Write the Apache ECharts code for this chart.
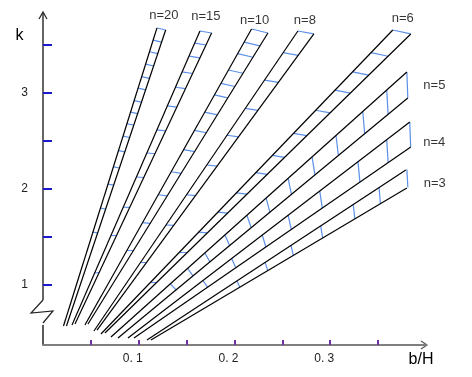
<!DOCTYPE html>
<html>
<head>
<meta charset="utf-8">
<script src="https://cdn.jsdelivr.net/npm/echarts@6/dist/echarts.min.js"></script>
<style>
html, body { margin: 0; padding: 0; background: #fff; }
#chart { width: 472px; height: 377px; }
</style>
</head>
<body>
<div id="chart"></div>
<script>
// band names (top to bottom, left to right)
var bandNames = ['n=20', 'n=15', 'n=10', 'n=8', 'n=6', 'n=5', 'n=4', 'n=3'];

// first (left / upper) line of each band: [[b/H, k] bottom, [b/H, k] top]
var lineA = [
    [[0.0214, 0.573], [0.1190, 3.677]],
    [[0.0303, 0.583], [0.1639, 3.646]],
    [[0.0438, 0.583], [0.2178, 3.667]],
    [[0.0532, 0.521], [0.2662, 3.646]],
    [[0.0605, 0.490], [0.3653, 3.656]],
    [[0.0710, 0.458], [0.3800, 3.219]],
    [[0.0887, 0.448], [0.3831, 2.698]],
    [[0.1086, 0.427], [0.3789, 2.198]]
];
// second (right / lower) line of each band
var lineB = [
    [[0.0245, 0.573], [0.1281, 3.656]],
    [[0.0334, 0.594], [0.1761, 3.625]],
    [[0.0470, 0.594], [0.2349, 3.625]],
    [[0.0564, 0.531], [0.2829, 3.615]],
    [[0.0647, 0.500], [0.3841, 3.615]],
    [[0.0783, 0.448], [0.3810, 2.948]],
    [[0.0950, 0.448], [0.3841, 2.4375]],
    [[0.1127, 0.427], [0.3800, 2.010]]
];

// cross marks inside each band: k on the first line ('k') or b/H ('b')
var rungAxis = ['k', 'k', 'k', 'k', 'k', 'b', 'b', 'b'];
var rungValues = [
    [3.677, 3.55, 3.43, 3.30, 3.17, 3.05, 2.92, 2.80, 2.68, 2.55, 2.40, 2.23, 2.05, 1.80, 1.55],
    [3.646, 3.52, 3.385, 3.22, 3.06, 2.865, 2.615, 2.375, 2.125, 1.81, 1.52, 1.125],
    [3.667, 3.53, 3.41, 3.24, 3.10, 2.98, 2.80, 2.61, 2.41, 2.18, 1.94, 1.65, 1.36],
    [3.646, 3.42, 3.135, 2.84, 2.56, 2.25, 1.94, 1.625, 1.24],
    [3.656, 3.42, 3.22, 3.03, 2.82, 2.58, 2.35, 2.17, 1.96, 1.76, 1.55, 1.34, 1.03],
    [0.380, 0.359, 0.334, 0.306, 0.281, 0.256, 0.233, 0.213, 0.190, 0.169, 0.151, 0.133],
    [0.383, 0.359, 0.329, 0.289, 0.256, 0.229, 0.197, 0.167],
    [0.380, 0.351, 0.324, 0.290, 0.259, 0.232, 0.2025]
];

var xTickValues = [0.05, 0.1, 0.15, 0.2, 0.25, 0.3, 0.35];
var xLabelValues = [0.1, 0.2, 0.3];
var yTickValues = [1, 1.5, 2, 2.5, 3, 3.5];
var yLabelValues = [1, 2, 3];

// label offsets (px) from the top of the first line
var labelOffsets = [[7, -13], [6, -14.5], [3, -8.5], [7, -10.5], [10, -11.5], [27.5, 13.5], [24.5, 20.5], [29, 13.5]];

function lerp(p, q, t) {
    return [p[0] + (q[0] - p[0]) * t, p[1] + (q[1] - p[1]) * t];
}

var series = [];
var tops = [];
bandNames.forEach(function (name, i) {
    var a = lineA[i], b = lineB[i];
    var lineStyle = { color: '#000', width: 1.2 };
    series.push({ type: 'line', data: a, symbol: 'none', lineStyle: lineStyle, silent: true, z: 3 });
    series.push({ type: 'line', data: b, symbol: 'none', lineStyle: lineStyle, silent: true, z: 3 });
    var idx = rungAxis[i] === 'k' ? 1 : 0;
    var rungs = rungValues[i].map(function (v) {
        var t = (v - a[0][idx]) / (a[1][idx] - a[0][idx]);
        return { coords: [lerp(a[0], a[1], t), lerp(b[0], b[1], t)] };
    });
    series.push({
        type: 'lines', coordinateSystem: 'cartesian2d', data: rungs, silent: true, z: 2,
        lineStyle: { color: '#5b8fe8', width: 1.2, opacity: 1 }
    });
    tops.push({ value: a[1], label: { formatter: name, offset: labelOffsets[i] } });
});
series.push({
    type: 'scatter', data: tops, symbolSize: 0, silent: true,
    label: { show: true, position: 'inside', color: '#000', fontSize: 13, fontFamily: 'Liberation Sans' }
});

var chart = echarts.init(document.getElementById('chart'));
chart.setOption({
    animation: false,
    grid: { left: 43, right: 46, top: 11.4, bottom: 32 },
    xAxis: {
        type: 'value', min: 0, max: 0.4,
        splitLine: { show: false },
        axisLine: { show: true, lineStyle: { color: '#7f7f7f', width: 2 } },
        axisTick: { show: true, inside: true, length: 5, customValues: xTickValues, lineStyle: { color: '#7030a0', width: 2 } },
        axisLabel: {
            customValues: xLabelValues, margin: 8, color: '#222', fontSize: 12, fontFamily: 'Liberation Sans',
            padding: [0, 12, 0, 0],
            formatter: function (v) { return String(v).replace('.', '. '); }
        }
    },
    yAxis: {
        type: 'value', min: 0.375, max: 3.85,
        splitLine: { show: false },
        axisLine: { show: false },
        axisTick: { show: true, inside: true, length: 9, customValues: yTickValues, lineStyle: { color: '#1a1acc', width: 2 } },
        axisLabel: { customValues: yLabelValues, margin: 15, color: '#222', fontSize: 12, fontFamily: 'Liberation Sans' }
    },
    graphic: [
        { type: 'line', shape: { x1: 43, y1: 13, x2: 43, y2: 300 }, style: { stroke: '#333', lineWidth: 1.5 } },
        { type: 'polyline', shape: { points: [[43, 300], [31, 313], [53, 311], [43, 323]] }, style: { stroke: '#222', lineWidth: 1.2, fill: null } },
        { type: 'line', shape: { x1: 43, y1: 325, x2: 43, y2: 345 }, style: { stroke: '#222', lineWidth: 1.5 } },
        { type: 'polyline', shape: { points: [[39, 19], [43, 12], [47, 19]] }, style: { stroke: '#222', lineWidth: 1.2, fill: null } },
        { type: 'polyline', shape: { points: [[421, 341], [427, 345], [421, 349]] }, style: { stroke: '#555', lineWidth: 1.2, fill: null } },
        { type: 'text', x: 19.5, y: 36, style: { text: 'k', fontSize: 16, fontFamily: 'Liberation Sans', fill: '#000', align: 'center', verticalAlign: 'middle' } },
        { type: 'text', x: 421, y: 360, style: { text: 'b/H', fontSize: 16, fontFamily: 'Liberation Sans', fill: '#000', align: 'center', verticalAlign: 'middle' } }
    ],
    series: series
});
</script>
</body>
</html>
